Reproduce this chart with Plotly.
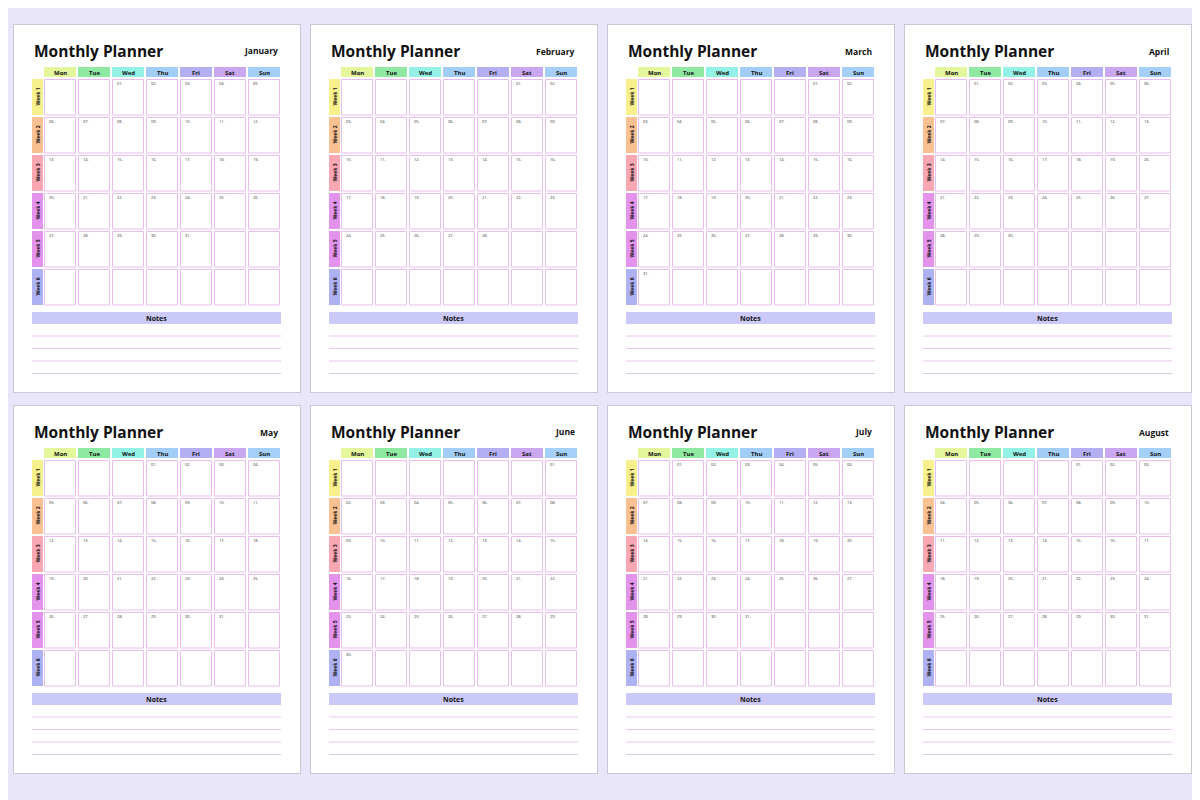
import plotly.graph_objects as go

months = ["January", "February", "March", "April", "May", "June", "July", "August"]
start_weekday = [2, 5, 5, 1, 3, 6, 1, 4]   # 0=Mon
days_in_month = [31, 28, 31, 30, 31, 30, 31, 31]
day_names = ["Mon", "Tue", "Wed", "Thu", "Fri", "Sat", "Sun"]
day_colors = ["#e4f79c", "#8fe9a2", "#93f1e6", "#a2cdf6", "#b4aef3", "#caa7f1", "#a3cff8"]
week_names = ["Week 1", "Week 2", "Week 3", "Week 4", "Week 5", "Week 6"]
week_colors = ["#f8f08c", "#f9c192", "#f8a7b3", "#e493ec", "#e493ec", "#aeb1f2"]

FONT = "Open Sans"
fig = go.Figure()
shapes, ann = [], []

def rect(x0, y0, x1, y1, fill, line=None, lw=0):
    shapes.append(dict(type="rect", xref="x", yref="y", x0=x0, y0=y0, x1=x1, y1=y1,
                       fillcolor=fill, line=dict(color=line or fill, width=lw), layer="below"))

def text(x, y, s, size, anchor="center", bold=True, angle=0, color="#111"):
    ann.append(dict(xref="x", yref="y", x=x, y=y, text=f"<b>{s}</b>" if bold else s,
                    showarrow=False, xanchor=anchor, yanchor="middle", textangle=angle,
                    font=dict(family=FONT, size=size, color=color)))

for i, m in enumerate(months):
    px = 14 + (i % 4) * 297
    py = 25 + (i // 4) * 381
    rect(px - 1, py - 1, px + 287, py + 368, "#c9c6d6")
    rect(px, py, px + 286, py + 367, "#ffffff")
    text(px + 18, py + 26, "Monthly Planner", 15.5, "left")
    text(px + 266, py + 26, m, 8.5, "right")
    for c, (dn, dc) in enumerate(zip(day_names, day_colors)):
        x0 = px + 30 + c * 34
        rect(x0, py + 42, x0 + 32, py + 52, dc)
        text(x0 + 16, py + 47.5, dn, 6)
    for r, (wn, wc) in enumerate(zip(week_names, week_colors)):
        y0 = py + 54 + r * 38
        rect(px + 18, y0, px + 29, y0 + 36, wc)
        text(px + 23.5, y0 + 18, wn, 5, angle=-90)
        for c in range(7):
            x0 = px + 30 + c * 34
            rect(x0 + 0.5, y0 + 0.5, x0 + 31.5, y0 + 36, "#ffffff", "#e9bdee", 1)
    for d in range(days_in_month[i]):
        idx = start_weekday[i] + d
        r, c = divmod(idx, 7)
        text(px + 30 + c * 34 + 3, py + 54 + r * 38 + 4.5, f"{d + 1:02d}.", 4, "left", bold=False, color="#333")
    rect(px + 18, py + 287, px + 267, py + 299, "#cbc9f7")
    text(px + 142, py + 293, "Notes", 7)
    for k in range(4):
        ly = py + 311 + k * 12.5
        shapes.append(dict(type="line", xref="x", yref="y", x0=px + 18, x1=px + 267, y0=ly, y1=ly,
                           line=dict(color="#ebc4ef" if k < 3 else "#d9c9e6", width=1)))

fig.update_layout(width=1200, height=800, margin=dict(l=0, r=0, t=0, b=0),
                  plot_bgcolor="#e9e6fb", paper_bgcolor="#e9e6fb", shapes=shapes, annotations=ann,
                  showlegend=False,
                  xaxis=dict(range=[8, 1208], visible=False, fixedrange=True),
                  yaxis=dict(range=[808, 8], visible=False, fixedrange=True))
fig.write_html("out.html", config={"displayModeBar": False})
